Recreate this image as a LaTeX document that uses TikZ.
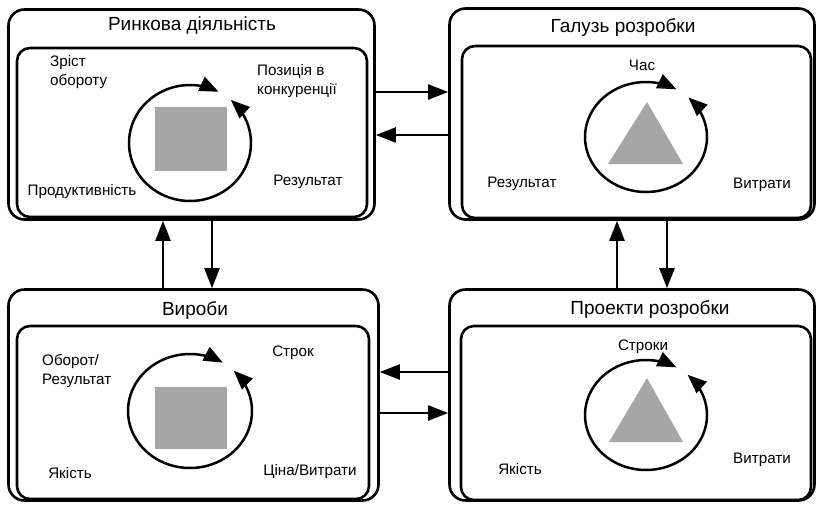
\documentclass[tikz,border=0pt]{standalone}
\usepackage{fontspec}
\setmainfont{Liberation Sans}
\usetikzlibrary{arrows.meta}

\begin{document}
\begin{tikzpicture}[x=1pt,y=-1pt,
  outerbox/.style={draw, line width=2.6pt, rounded corners=16pt, inner sep=0pt},
  innerbox/.style={draw, line width=2.6pt, rounded corners=13pt, inner sep=0pt},
  conn/.style={line width=2.2pt, -{Triangle[length=20pt,width=15pt]}},
  cyc/.style={line width=2.5pt, {Triangle[length=19pt,width=15pt]}-{Triangle[length=19pt,width=15pt]}},
  boxtitle/.style={font=\fontsize{19}{22}\selectfont, inner sep=0pt},
  lbl/.style={font=\fontsize{15.2}{19}\selectfont, align=left, inner sep=0pt},
  shade/.style={fill={rgb,255:red,166;green,166;blue,166}, draw=none}
]
\useasboundingbox (0,0) rectangle (818,504);

% outer frames
\node[outerbox, minimum width=366pt, minimum height=210pt] (rin) at (191.5,114.5) {};
\node[outerbox, minimum width=365pt, minimum height=211pt] (gal) at (632,114) {};
\node[outerbox, minimum width=370pt, minimum height=211pt] (vyr) at (193.5,395) {};
\node[outerbox, minimum width=365pt, minimum height=211pt] (pro) at (632,395) {};

% inner frames
\node[innerbox, minimum width=350pt, minimum height=169pt] (rin-in) at (192,132.5) {};
\node[innerbox, minimum width=349pt, minimum height=172pt] (gal-in) at (636.5,132) {};
\node[innerbox, minimum width=352pt, minimum height=173pt] (vyr-in) at (193,412.5) {};
\node[innerbox, minimum width=350pt, minimum height=174pt] (pro-in) at (636,413) {};

% titles
\node[boxtitle] (rin-t) at (192,26) {Ринкова діяльність};
\node[boxtitle] (gal-t) at (623,28) {Галузь розробки};
\node[boxtitle] (vyr-t) at (195,310) {Вироби};
\node[boxtitle] (pro-t) at (650,309) {Проекти розробки};

% market activity
\fill[shade] (155,107) rectangle (227,171);
\draw[cyc] plot[domain=-62:-408, samples=90] ({190+61*cos(\x)}, {143+58*sin(\x)});
\node[lbl, anchor=west] (rin-a) at (50,72) {Зріст\\обороту};
\node[lbl, anchor=west] (rin-b) at (257,81) {Позиція в\\конкуренції};
\node[lbl] (rin-c) at (308,182) {Результат};
\node[lbl] (rin-d) at (82,192) {Продуктивність};

% development field
\fill[shade] (647,102) -- (683,164) -- (608,164) -- cycle;
\draw[cyc] plot[domain=-60:-406, samples=90] ({646+61*cos(\x)}, {137+55*sin(\x)});
\node[lbl] (gal-a) at (642,65) {Час};
\node[lbl] (gal-b) at (522,184) {Результат};
\node[lbl] (gal-c) at (762,185) {Витрати};

% products
\fill[shade] (155,387) rectangle (227,449);
\draw[cyc] plot[domain=-58:-405, samples=90] ({190+62*cos(\x)}, {411+57*sin(\x)});
\node[lbl, anchor=west] (vyr-a) at (42,371) {Оборот/\\Результат};
\node[lbl] (vyr-b) at (293,353) {Строк};
\node[lbl] (vyr-c) at (70,473) {Якість};
\node[lbl] (vyr-d) at (310,472) {Ціна/Витрати};

% development projects
\fill[shade] (647,378) -- (683,442) -- (609,442) -- cycle;
\draw[cyc] plot[domain=-60:-407, samples=90] ({646+61*cos(\x)}, {415+55*sin(\x)});
\node[lbl] (pro-a) at (643,347) {Строки};
\node[lbl] (pro-b) at (520,469) {Якість};
\node[lbl] (pro-c) at (762,460) {Витрати};

% links between the frames
\draw[conn] ([yshift=22.5pt]rin.east) -- ([yshift=22.5pt]rin.east -| gal.west);
\draw[conn] ([yshift=-20.5pt]rin.east -| gal.west) -- ([yshift=-20.5pt]rin.east);
\draw[conn] ([yshift=23pt]vyr.east -| pro.west) -- ([yshift=23pt]vyr.east);
\draw[conn] ([yshift=-18pt]vyr.east) -- ([yshift=-18pt]vyr.east -| pro.west);
\draw[conn] ([xshift=-28.5pt]rin.south |- vyr.north) -- ([xshift=-28.5pt]rin.south);
\draw[conn] ([xshift=20.5pt]rin.south) -- ([xshift=20.5pt]rin.south |- vyr.north);
\draw[conn] ([xshift=-15pt]gal.south |- pro.north) -- ([xshift=-15pt]gal.south);
\draw[conn] ([xshift=35pt]gal.south) -- ([xshift=35pt]gal.south |- pro.north);
\end{tikzpicture}
\end{document}
